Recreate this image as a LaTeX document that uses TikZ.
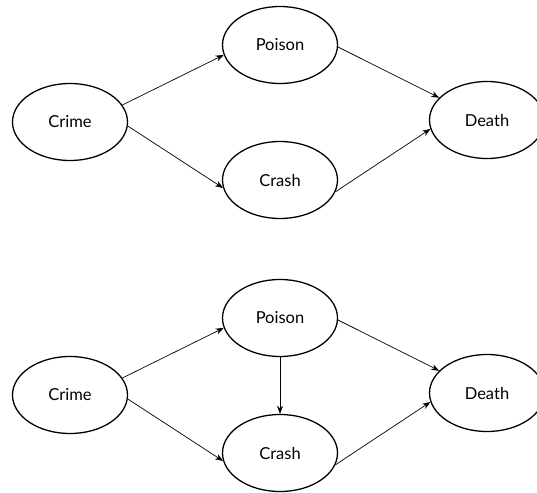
\documentclass[tikz,border=0pt]{standalone}
\usepackage{fontspec}
\setmainfont{Lato}
\usepackage{tikz}
\usetikzlibrary{shapes.geometric,arrows.meta}
\tikzset{
  var/.style={ellipse, draw, line width=1.3pt, minimum width=115pt, minimum height=77pt, inner sep=0pt, font=\fontsize{16.5}{18}\selectfont},
  edge/.style={-{Stealth[length=8pt,width=6pt,inset=2.5pt]}, line width=0.7pt}
}

\begin{document}
\begin{tikzpicture}[x=1pt,y=-1pt]
			\useasboundingbox (0,0) rectangle (537,492);
			% top graph
			\node[var] (crime1) at (70,122) {Crime};
			\node[var] (poison1) at (280,45) {Poison};
			\node[var] (crash1) at (280,180) {Crash};
			\node[var] (death1) at (487,120) {Death};
			\draw[edge] (crime1.18) -- (poison1.190);
			\draw[edge] (crime1.-4) -- (crash1.188);
			\draw[edge] (poison1.-2) -- (death1.155);
			\draw[edge] (crash1.-12) -- (death1.189);
			% bottom graph
			\node[var] (crime2) at (70,395) {Crime};
			\node[var] (poison2) at (280,318) {Poison};
			\node[var] (crash2) at (280,453) {Crash};
			\node[var] (death2) at (487,393) {Death};
			\draw[edge] (crime2.18) -- (poison2.190);
			\draw[edge] (crime2.-4) -- (crash2.188);
			\draw[edge] (poison2.-2) -- (death2.155);
			\draw[edge] (crash2.-12) -- (death2.189);
			\draw[edge] (poison2) -- (crash2);
\end{tikzpicture}
\end{document}
